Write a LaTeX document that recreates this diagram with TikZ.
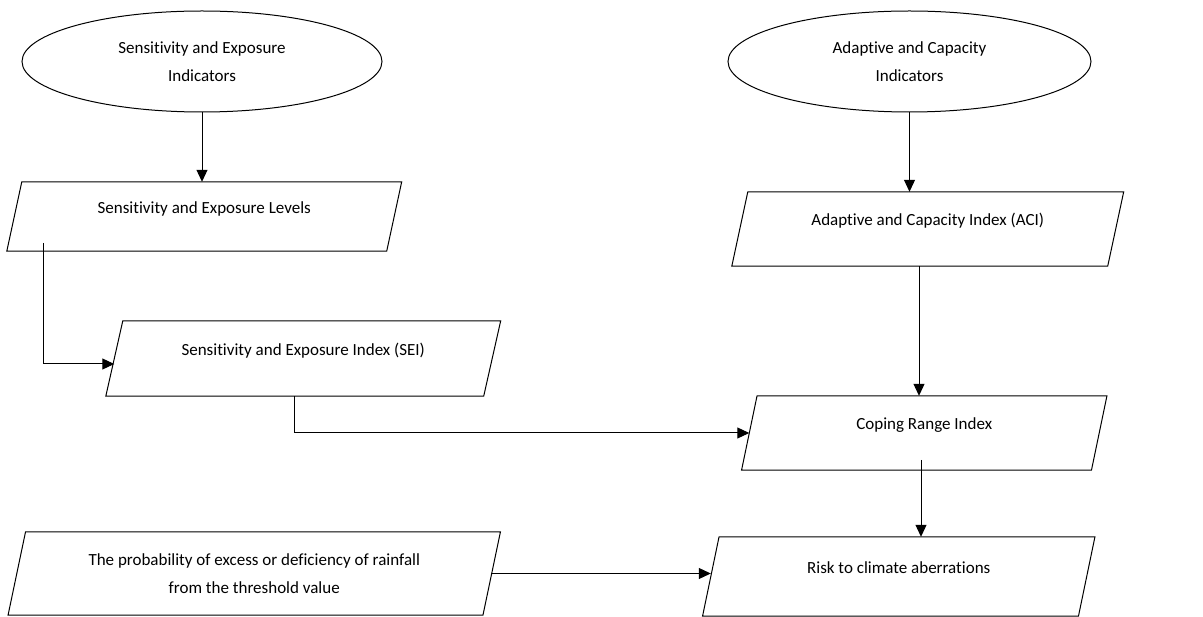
\documentclass[tikz,border=0pt]{standalone}
\usepackage{fontspec}
\setmainfont[RawFeature={-liga;-clig;-calt;-dlig}]{Carlito}
\usetikzlibrary{shapes.geometric,arrows.meta,calc}
\newcommand\pgram[2]{\draw[edge] ([xshift=#2pt]#1.north west) -- ([xshift=#2pt]#1.north east) -- ([xshift=-#2pt]#1.south east) -- ([xshift=-#2pt]#1.south west) -- cycle;}
\begin{document}
\begin{tikzpicture}[x=1pt,y=-1pt,
  every node/.style={font=\fontsize{17}{28.5}\selectfont, inner sep=0pt, text=black},
  oval/.style={ellipse, draw, line width=1pt, align=center},
  pbox/.style={rectangle, draw=none, align=center, text height=12pt, text depth=18pt},
  mbox/.style={rectangle, draw=none, align=center},
  edge/.style={line width=1pt, line join=miter},
  arr/.style={line width=1pt, -{Triangle[length=12pt,width=11pt]}}
]
\useasboundingbox (0,0) rectangle (1203,617);

% ovals
\node[oval, minimum width=360pt, minimum height=101pt] (e1) at (202,61.5) {Sensitivity and Exposure\\Indicators};
\node[oval, minimum width=363pt, minimum height=101pt] (e2) at (909.5,61.5) {Adaptive and Capacity\\Indicators};

% parallelogram boxes
\node[pbox, minimum width=379.5pt, minimum height=69pt] (sel) at (204.25,216.5) {Sensitivity and Exposure Levels};
\pgram{sel}{7.5}
\node[pbox, minimum width=377.5pt, minimum height=75pt] (sei) at (303.25,358.5) {Sensitivity and Exposure Index (SEI)};
\pgram{sei}{8.5}
\node[pbox, minimum width=375.5pt, minimum height=74pt] (aci) at (927.75,229) {Adaptive and Capacity Index (ACI)};
\pgram{aci}{8}
\node[pbox, minimum width=349.5pt, minimum height=74pt] (cri) at (924.25,433) {Coping Range Index};
\pgram{cri}{7.75}
\node[pbox, minimum width=375.5pt, minimum height=79pt] (risk) at (898.75,576.5) {Risk to climate aberrations};
\pgram{risk}{8.25}
\node[mbox, minimum width=474.5pt, minimum height=83pt] (rain) at (254.25,573.5) {The probability of excess or deficiency of rainfall\\from the threshold value};
\pgram{rain}{8.75}

% connectors
\coordinate (selout) at (43,243);
\coordinate (criout) at (921,460);
\draw[arr] (e1.south) -- (e1.south |- sel.north);
\draw[arr] (e2.south) -- (e2.south |- aci.north);
\draw[arr] (selout) |- ($(sei.west)+(0,5.5)$);
\draw[arr] ([xshift=-9.25pt]sei.south) |- (cri.west);
\draw[arr] ([xshift=-8.75pt]aci.south) -- ([xshift=-8.75pt]aci.south |- cri.north);
\draw[arr] (criout) -- (criout |- risk.north);
\draw[arr] (rain.east) -- (rain.east -| risk.west);
\end{tikzpicture}
\end{document}
